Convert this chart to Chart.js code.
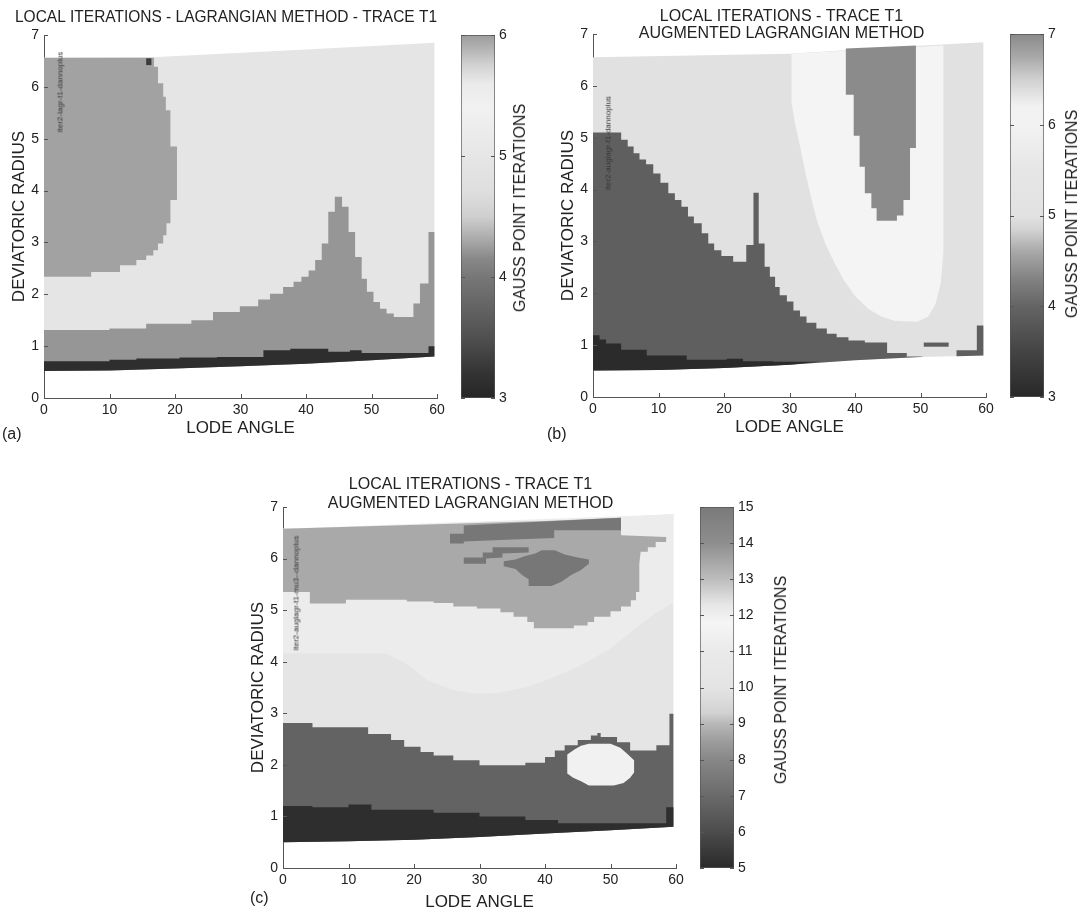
<!DOCTYPE html>
<html>
<head>
<meta charset="utf-8">
<script src="https://cdn.jsdelivr.net/npm/chart.js@4.4.1/dist/chart.umd.min.js"></script>
<style>
  body { margin: 0; background: #fff; width: 1084px; height: 911px; position: relative; overflow: hidden;
         font-family: "Liberation Sans", Arial, sans-serif; color: #222; }
  canvas { position: absolute; }
  .rot { position: absolute; white-space: nowrap; transform: translate(-50%, -50%) rotate(-90deg); }
  .cbl { font-size: 16px; }
  .tiny { font-size: 8px; color: #333; }
  .tag { position: absolute; font-size: 16px; transform: translateY(-50%); }
</style>
</head>
<body>
<canvas id="plotA" width="455" height="440" style="left:0;top:0"></canvas>
<canvas id="barA" width="80" height="436" style="left:455px;top:0"></canvas>
<canvas id="plotB" width="455" height="440" style="left:549px;top:0"></canvas>
<canvas id="barB" width="80" height="436" style="left:1004px;top:0"></canvas>
<canvas id="plotC" width="455" height="446" style="left:239px;top:465px"></canvas>
<canvas id="barC" width="100" height="446" style="left:694px;top:465px"></canvas>

<div class="tag" style="left:2px;top:434px">(a)</div>
<div class="tag" style="left:547px;top:434px">(b)</div>
<div class="tag" style="left:250px;top:898px">(c)</div>
<div class="rot cbl" style="left:520px;top:208px">GAUSS POINT ITERATIONS</div>
<div class="rot cbl" style="left:1072px;top:214px">GAUSS POINT ITERATIONS</div>
<div class="rot cbl" style="left:781px;top:680px">GAUSS POINT ITERATIONS</div>
<div class="rot tiny" style="left:60px;top:92px">iter2-lagr-t1-dannoplus</div>
<div class="rot tiny" style="left:608px;top:143px">iter2-auglagr-t1-dannoplus</div>
<div class="rot tiny" style="left:296px;top:593px">iter2-auglagr-t1-mu3--dannoplus</div>

<script>
const FONT = '"Liberation Sans", Arial, sans-serif';

// ---- panel (a): Lagrangian method ----
const aEdgeX = [0, 10, 20, 30, 40, 50, 59.6];
const aBottom = [0.52, 0.53, 0.57, 0.61, 0.66, 0.73, 0.80];
const aTopX = [0, 16.5, 40, 59.6];
const aTop = [6.56, 6.57, 6.72, 6.85];
const aGrayStepX = [0, 10, 15.6, 22.5, 25.8, 29.9, 32.7, 34.5, 36.5, 38.1, 39.3, 40.4, 41.4, 42.4, 43.4, 44.4, 45.5, 46.5, 47.5, 48.5, 49.3, 50.3, 51.3, 52.3, 53.4, 56.4, 57.4, 58.7];
const aGrayStepY = [1.31, 1.34, 1.43, 1.5, 1.66, 1.77, 1.9, 2.01, 2.14, 2.24, 2.34, 2.46, 2.66, 2.98, 3.59, 3.88, 3.69, 3.2, 2.72, 2.3, 2.05, 1.85, 1.72, 1.63, 1.56, 1.82, 2.21, 3.2];
const aBlackStepX = [0, 10, 14.1, 20.7, 26.4, 33.5, 37.6, 43.4, 46.7, 48.5, 58.7];
const aBlackStepY = [0.71, 0.74, 0.76, 0.78, 0.79, 0.92, 0.95, 0.89, 0.92, 0.87, 1.0];
const aBlobY = [2.34, 2.43, 2.56, 2.66, 2.75, 2.85, 2.98, 3.14, 3.37, 3.82, 4.85, 5.55, 5.81, 6.07, 6.39];
const aBlobX = [7.2, 11.6, 14.1, 15.6, 16.7, 17.4, 18.2, 18.7, 19.3, 20.3, 19.3, 18.6, 18.2, 17.4, 16.8];
const aBlobTop = 6.56;
const aDotX = [15.6, 16.4, 16.4, 15.6];
const aDotY = [6.42, 6.42, 6.55, 6.55];

// ---- panel (b): augmented Lagrangian ----
const bEdgeX = [0, 10, 20, 30, 40, 50, 59.6];
const bBottom = [0.51, 0.52, 0.56, 0.62, 0.71, 0.77, 0.80];
const bTopX = [0, 30, 45, 59.6];
const bTop = [6.55, 6.62, 6.74, 6.84];
const bUX = [30.3, 30.3, 30.8, 31.5, 32.3, 33.2, 34.2, 35.5, 36.8, 38.3, 40, 42, 44, 46, 49.5, 51.2, 52.3, 53.1, 53.5, 53.5];
const bUY = [6.62, 5.7, 5.3, 4.9, 4.4, 3.9, 3.4, 2.95, 2.6, 2.25, 1.95, 1.7, 1.55, 1.47, 1.45, 1.55, 1.8, 2.2, 2.8, 6.78];
const bDropX = [38.6, 38.6, 39.8, 39.8, 40.7, 40.7, 41.5, 41.5, 42.5, 42.5, 43.3, 43.3, 46.4, 46.4, 47.4, 47.4, 48.4, 48.4, 49.3, 49.3];
const bDropY = [6.72, 5.83, 5.83, 5.04, 5.04, 4.44, 4.44, 3.93, 3.93, 3.64, 3.64, 3.4, 3.4, 3.5, 3.5, 3.8, 3.8, 4.8, 4.8, 6.78];
const bDarkStepX = [0, 4.3, 5.3, 6.2, 7.1, 8.1, 9.2, 10.3, 11.5, 12.5, 13.5, 14.5, 15.4, 16.6, 17.6, 18.5, 19.6, 21.4, 23.4, 24.5, 25.3, 26.2, 27, 27.8, 28.5, 29.6, 30.6, 31.6, 32.6, 34.1, 35.7, 37.2, 39, 41.5, 44.9, 47.9];
const bDarkStepY = [5.1, 4.96, 4.83, 4.7, 4.58, 4.49, 4.31, 4.13, 3.93, 3.8, 3.67, 3.48, 3.35, 3.16, 2.96, 2.83, 2.72, 2.61, 2.93, 3.94, 2.96, 2.51, 2.32, 2.12, 1.96, 1.84, 1.67, 1.55, 1.43, 1.32, 1.22, 1.15, 1.09, 1.05, 0.85, 0.78];
const bDarkEnd = 50.5;
const bBarX = [50.5, 54.3, 54.3, 50.5];
const bBarY = [0.97, 0.97, 1.05, 1.05];
const bTailX = [55.5, 55.5, 58.6, 58.6, 59.6, 59.6];
const bTailY = [0.785, 0.9, 0.9, 1.38, 1.38, 0.80];
const bBlackStepX = [0, 1, 2, 4.3, 8.2, 14.3, 20.4, 22.9, 27.5];
const bBlackStepY = [1.19, 1.11, 1.03, 0.91, 0.8, 0.72, 0.74, 0.69, 0.68];
const bBlackEnd = 34.7;

// ---- panel (c): augmented Lagrangian, mu3 ----
const cEdgeX = [0, 10, 20, 30, 40, 50, 59.6];
const cBottom = [0.5, 0.52, 0.55, 0.6, 0.67, 0.73, 0.8];
const cTopX = [0, 20, 40, 59.6];
const cTop = [6.58, 6.62, 6.73, 6.86];
const cArcX = [0, 15.8, 19, 22, 26, 29.6, 33, 37.3, 41, 45, 50, 54, 57, 59.6, 59.6, 0];
const cArcY = [4.16, 4.16, 3.95, 3.64, 3.45, 3.38, 3.4, 3.51, 3.68, 3.9, 4.25, 4.67, 4.95, 5.15, 6.86, 6.58];
const cMidX = [0, 40, 51.6, 51.6, 58.5, 58.5, 56.9, 56.9, 55.7, 55.7, 54.6, 54.4, 54.4, 53.9, 53.9, 53.1, 53.1, 51.6, 51.6, 50, 50, 47.5, 47.5, 46.5, 46.5, 44.4, 44.4, 38.3, 38.3, 37.3, 37.3, 35.2, 35.2, 33.2, 33.2, 29.6, 29.6, 26, 26, 23, 23, 18.9, 18.9, 9.6, 9.6, 4.1, 4.1, 0];
const cMidY = [6.58, 6.73, 6.79, 6.45, 6.42, 6.32, 6.32, 6.22, 6.22, 6.13, 6.13, 5.9, 5.35, 5.35, 5.19, 5.19, 5.07, 5.07, 4.98, 4.98, 4.87, 4.87, 4.77, 4.77, 4.7, 4.7, 4.65, 4.65, 4.77, 4.77, 4.87, 4.87, 4.96, 4.96, 5.03, 5.03, 5.07, 5.07, 5.14, 5.14, 5.17, 5.17, 5.2, 5.2, 5.13, 5.13, 5.35, 5.35];
const cStripX = [25.5, 25.5, 27.6, 27.6, 51.6, 51.6, 41.4, 41.4, 35, 27.6, 27.6];
const cStripY = [6.29, 6.48, 6.48, 6.64, 6.79, 6.55, 6.55, 6.4, 6.37, 6.33, 6.29];
const cPatchX = [27.6, 27.6, 30.5, 30.5, 32, 32, 37.5, 37.5, 33.5, 33.5, 31, 31];
const cPatchY = [5.9, 6.02, 6.02, 6.12, 6.12, 6.22, 6.22, 6.12, 6.1, 6.02, 6.0, 5.9];
const cBlobX = [33.7, 33.7, 35.5, 37, 38.5, 39.5, 41.5, 43, 45, 46.7, 46.7, 45.5, 44, 42.5, 41, 37.5, 37.5, 36.5, 35.5];
const cBlobY = [5.85, 5.95, 5.98, 6.05, 6.1, 6.16, 6.16, 6.08, 6.02, 5.98, 5.9, 5.78, 5.68, 5.55, 5.47, 5.47, 5.6, 5.68, 5.8];
const cDarkStepX = [0, 4.5, 13, 16.5, 18.5, 21, 23, 26, 30, 37, 40, 41.5, 43, 45, 47, 48, 48.5, 51, 53, 57, 59];
const cDarkStepY = [2.81, 2.73, 2.6, 2.48, 2.35, 2.25, 2.18, 2.09, 1.99, 2.04, 2.15, 2.28, 2.38, 2.48, 2.57, 2.62, 2.54, 2.44, 2.28, 2.38, 2.99];
const cHoleX = [43.4, 43.4, 44.5, 45.5, 46.7, 50, 51.5, 52.5, 53.6, 53.6, 53, 52, 50.5, 46.7, 45.5, 44.3];
const cHoleY = [1.83, 2.2, 2.3, 2.37, 2.41, 2.41, 2.33, 2.22, 2.09, 1.85, 1.75, 1.65, 1.6, 1.6, 1.68, 1.75];
const cBlackStepX = [0, 4.5, 10, 13.5, 23, 30, 37, 42, 58.5];
const cBlackStepY = [1.2, 1.18, 1.23, 1.13, 1.07, 1.0, 0.93, 0.87, 1.18];

// ---- colour bars ----
const cbAVals = [3, 3.2, 3.5, 4, 4.15, 4.3, 4.5, 4.7, 5.0, 5.4, 5.6, 5.75, 5.9, 6];
const cbAGrays = ['#262626', '#333333', '#505050', '#777777', '#888888', '#a8a8a8', '#cfcfcf', '#dedede', '#e6e6e6', '#f1f1f1', '#eaeaea', '#d2d2d2', '#b0b0b0', '#9d9d9d'];
const cbBVals = [3, 3.5, 4, 4.3, 4.6, 4.85, 5, 5.5, 6, 6.2, 6.5, 6.75, 7];
const cbBGrays = ['#282828', '#444444', '#646464', '#828282', '#a8a8a8', '#d4d4d4', '#e2e2e2', '#e6e6e6', '#f2f2f2', '#f2f2f2', '#d0d0d0', '#a8a8a8', '#8a8a8a'];
const cbCVals = [5, 6, 7, 8, 8.5, 9, 9.3, 10, 11, 11.8, 12.3, 13, 14, 15];
const cbCGrays = ['#2a2a2a', '#4c4c4c', '#6a6a6a', '#878787', '#9c9c9c', '#b8b8b8', '#d2d2d2', '#e4e4e4', '#eaeaea', '#f5f5f5', '#e6e6e6', '#bdbdbd', '#8e8e8e', '#7a7a7a'];

// helpers to turn the boundary lists into closed outlines
const pts = (xs, ys) => xs.map((x, i) => ({x, y: ys[i]}));
function hSteps(xs, ys, xEnd) {
  const out = [];
  xs.forEach((x, i) => {
    out.push({x, y: ys[i]}, {x: i + 1 < xs.length ? xs[i + 1] : xEnd, y: ys[i]});
  });
  return out;
}
function vSteps(ys, xs, yEnd) {
  const out = [{x: 0, y: ys[0]}];
  ys.forEach((y, i) => {
    out.push({x: xs[i], y}, {x: xs[i], y: i + 1 < ys.length ? ys[i + 1] : yEnd});
  });
  out.push({x: 0, y: yEnd});
  return out;
}
function toBottom(upper, edgeX, edgeY) {
  const xEnd = upper[upper.length - 1].x;
  const back = [];
  for (let i = edgeX.length - 1; i >= 0; i--) {
    if (edgeX[i] <= xEnd) back.push({x: edgeX[i], y: edgeY[i]});
  }
  return upper.concat(back);
}
const domain = (tx, ty, bx, by) => pts(tx, ty).concat(pts(bx, by).reverse());

// draws small inward tick marks like the original figure
const inwardTicks = {
  id: 'inwardTicks',
  afterDatasetsDraw(chart, args, opts) {
    const a = chart.chartArea, ctx = chart.ctx, len = 4;
    ctx.save();
    ctx.strokeStyle = '#555';
    ctx.lineWidth = 1;
    ctx.beginPath();
    for (const s of Object.values(chart.scales)) {
      if (!s.options.display) continue;
      for (const t of s.ticks) {
        const p = Math.round(s.getPixelForValue(t.value)) + 0.5;
        if (s.isHorizontal()) {
          ctx.moveTo(p, a.bottom); ctx.lineTo(p, a.bottom - len);
        } else {
          if (opts.left) { ctx.moveTo(a.left, p); ctx.lineTo(a.left + len, p); }
          if (opts.right) { ctx.moveTo(a.right, p); ctx.lineTo(a.right - len, p); }
        }
      }
    }
    ctx.stroke();
    ctx.restore();
  }
};

function mapChart(id, cfg) {
  const n = cfg.layers.length;
  return new Chart(document.getElementById(id), {
    type: 'line',
    data: {
      datasets: cfg.layers.map((l, i) => ({
        data: l.pts,
        backgroundColor: l.color,
        fill: 'shape',
        borderWidth: 0,
        pointRadius: 0,
        order: n - i
      }))
    },
    options: {
      responsive: false,
      animation: false,
      events: [],
      layout: { padding: { left: cfg.padLeft, right: 18, top: 0, bottom: cfg.padBottom } },
      plugins: {
        legend: { display: false },
        tooltip: { enabled: false },
        title: {
          display: true,
          text: cfg.title,
          color: '#222',
          font: { family: FONT, size: 16, weight: 'normal', lineHeight: cfg.titleLH },
          padding: cfg.titlePad
        },
        inwardTicks: { left: true }
      },
      scales: {
        x: {
          type: 'linear', min: 0, max: 60, z: 1,
          ticks: { stepSize: 10, padding: 4, color: '#222', font: { family: FONT, size: 14 } },
          grid: { display: false, drawTicks: false },
          border: { display: true, color: '#555' },
          title: { display: true, text: 'LODE ANGLE', color: '#222', font: { family: FONT, size: 17 }, padding: { top: 0, bottom: cfg.xTitlePad } },
          afterFit: s => { s.height = cfg.xH; }
        },
        y: {
          type: 'linear', min: 0, max: 7, z: 1,
          ticks: { stepSize: 1, padding: 5, color: '#222', font: { family: FONT, size: 14 } },
          grid: { display: false, drawTicks: false },
          border: { display: true, color: '#555' },
          title: { display: true, text: 'DEVIATORIC RADIUS', color: '#222', font: { family: FONT, size: 17 }, padding: { top: 8.8 - cfg.padLeft, bottom: 0 } },
          afterFit: s => { s.width = 44 - cfg.padLeft; }
        }
      }
    },
    plugins: [inwardTicks]
  });
}

function colorBar(id, vals, grays, pad, axisW) {
  const lo = vals[0], hi = vals[vals.length - 1];
  return new Chart(document.getElementById(id), {
    type: 'bar',
    data: {
      labels: [''],
      datasets: [{
        data: [[lo, hi]],
        backgroundColor: c => {
          const chart = c.chart, y = chart.scales.y;
          if (!chart.chartArea || !y) return '#999';
          const g = chart.ctx.createLinearGradient(0, y.getPixelForValue(lo), 0, y.getPixelForValue(hi));
          vals.forEach((v, i) => g.addColorStop((v - lo) / (hi - lo), grays[i]));
          return g;
        },
        borderColor: '#555',
        borderWidth: 1,
        borderSkipped: false,
        barPercentage: 1,
        categoryPercentage: 1
      }]
    },
    options: {
      responsive: false,
      animation: false,
      events: [],
      layout: { padding: pad },
      plugins: {
        legend: { display: false },
        tooltip: { enabled: false },
        inwardTicks: { left: true, right: true }
      },
      scales: {
        x: { display: false },
        y: {
          position: 'right', min: lo, max: hi,
          ticks: { stepSize: 1, padding: 4, color: '#222', font: { family: FONT, size: 14 } },
          grid: { display: false, drawTicks: false },
          border: { display: false },
          afterFit: s => { s.width = axisW; }
        }
      }
    },
    plugins: [inwardTicks]
  });
}

// (a)
mapChart('plotA', {
  title: 'LOCAL ITERATIONS - LAGRANGIAN METHOD - TRACE T1',
  titleLH: 1.2, titlePad: { top: 8.4, bottom: 7.4 },
  padLeft: 15, padBottom: 4, xH: 38, xTitlePad: -2.2,
  layers: [
    { pts: domain(aTopX, aTop, aEdgeX, aBottom), color: '#e5e5e5' },
    { pts: toBottom(hSteps(aGrayStepX, aGrayStepY, 59.6), aEdgeX, aBottom), color: '#969696' },
    { pts: toBottom(hSteps(aBlackStepX, aBlackStepY, 59.6), aEdgeX, aBottom), color: '#2e2e2e' },
    { pts: vSteps(aBlobY, aBlobX, aBlobTop), color: '#a2a2a2' },
    { pts: pts(aDotX, aDotY), color: '#3c3c3c' }
  ]
});
colorBar('barA', cbAVals, cbAGrays, { left: 6, right: 0, top: 35, bottom: 38 }, 40);

// (b)
mapChart('plotB', {
  title: ['LOCAL ITERATIONS - TRACE T1', 'AUGMENTED LAGRANGIAN METHOD'],
  titleLH: 1.05, titlePad: { top: 8.3, bottom: -7.9 },
  padLeft: 28, padBottom: 5, xH: 38, xTitlePad: -2.2,
  layers: [
    { pts: domain(bTopX, bTop, bEdgeX, bBottom), color: '#e1e1e1' },
    { pts: pts(bUX, bUY), color: '#f4f4f4' },
    { pts: pts(bDropX, bDropY), color: '#8b8b8b' },
    { pts: toBottom(hSteps(bDarkStepX, bDarkStepY, bDarkEnd), bEdgeX, bBottom), color: '#5f5f5f' },
    { pts: pts(bBarX, bBarY), color: '#5f5f5f' },
    { pts: pts(bTailX, bTailY), color: '#5f5f5f' },
    { pts: toBottom(hSteps(bBlackStepX, bBlackStepY, bBlackEnd), bEdgeX, bBottom), color: '#2b2b2b' }
  ]
});
colorBar('barB', cbBVals, cbBGrays, { left: 6, right: 0, top: 34, bottom: 39 }, 40);

// (c)
mapChart('plotC', {
  title: ['LOCAL ITERATIONS - TRACE T1', 'AUGMENTED LAGRANGIAN METHOD'],
  titleLH: 1.15, titlePad: { top: 10.8, bottom: -5.6 },
  padLeft: 26, padBottom: 0, xH: 43, xTitlePad: -1.2,
  layers: [
    { pts: domain(cTopX, cTop, cEdgeX, cBottom), color: '#e5e5e5' },
    { pts: pts(cArcX, cArcY), color: '#ececec' },
    { pts: pts(cMidX, cMidY), color: '#a9a9a9' },
    { pts: pts(cStripX, cStripY), color: '#777777' },
    { pts: pts(cPatchX, cPatchY), color: '#777777' },
    { pts: pts(cBlobX, cBlobY), color: '#777777' },
    { pts: toBottom(hSteps(cDarkStepX, cDarkStepY, 59.6), cEdgeX, cBottom), color: '#636363' },
    { pts: pts(cHoleX, cHoleY), color: '#f1f1f1' },
    { pts: toBottom(hSteps(cBlackStepX, cBlackStepY, 59.6), cEdgeX, cBottom), color: '#2e2e2e' }
  ]
});
colorBar('barC', cbCVals, cbCGrays, { left: 6, right: 0, top: 42, bottom: 43 }, 60);
</script>
</body>
</html>
